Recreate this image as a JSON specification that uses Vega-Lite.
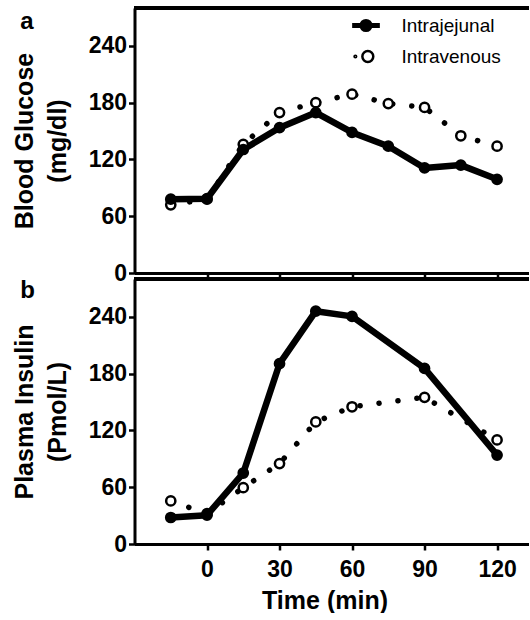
{
  "$schema": "https://vega.github.io/schema/vega-lite/v6.json",
  "padding": {"left": 11.5, "top": 6, "right": 0, "bottom": 0},
  "spacing": 6,
  "bounds": "flush",
  "config": {
    "font": "Liberation Sans",
    "view": {"stroke": null},
    "axis": {
      "grid": false,
      "domainColor": "black",
      "domainWidth": 3,
      "tickColor": "black",
      "tickWidth": 2.5,
      "tickSize": 6,
      "labelFont": "Liberation Sans",
      "labelFontSize": 23,
      "labelFontWeight": "bold",
      "labelColor": "black",
      "titleFont": "Liberation Sans",
      "titleFontSize": 25,
      "titleFontWeight": "bold",
      "titleColor": "black"
    },
    "axisX": {"labelPadding": 8, "titlePadding": 7},
    "axisY": {"labelPadding": 2, "titlePadding": 18, "titleLineHeight": 33}
  },
  "datasets": {
    "glucose": [
      {"time": -15, "route": "Intravenous", "value": 72},
      {"time": 0, "route": "Intravenous", "value": 78},
      {"time": 15, "route": "Intravenous", "value": 136},
      {"time": 30, "route": "Intravenous", "value": 169.5},
      {"time": 45, "route": "Intravenous", "value": 180},
      {"time": 60, "route": "Intravenous", "value": 189},
      {"time": 75, "route": "Intravenous", "value": 179},
      {"time": 90, "route": "Intravenous", "value": 175},
      {"time": 105, "route": "Intravenous", "value": 145},
      {"time": 120, "route": "Intravenous", "value": 134},
      {"time": -15, "route": "Intrajejunal", "value": 78},
      {"time": 0, "route": "Intrajejunal", "value": 78.5},
      {"time": 15, "route": "Intrajejunal", "value": 130.5},
      {"time": 30, "route": "Intrajejunal", "value": 153.5},
      {"time": 45, "route": "Intrajejunal", "value": 169.5},
      {"time": 60, "route": "Intrajejunal", "value": 148.5},
      {"time": 75, "route": "Intrajejunal", "value": 134},
      {"time": 90, "route": "Intrajejunal", "value": 111},
      {"time": 105, "route": "Intrajejunal", "value": 114},
      {"time": 120, "route": "Intrajejunal", "value": 99}
    ],
    "insulin": [
      {"time": -15, "route": "Intravenous", "value": 45.5},
      {"time": 0, "route": "Intravenous", "value": 32},
      {"time": 15, "route": "Intravenous", "value": 59.5},
      {"time": 30, "route": "Intravenous", "value": 85},
      {"time": 45, "route": "Intravenous", "value": 129},
      {"time": 60, "route": "Intravenous", "value": 145},
      {"time": 90, "route": "Intravenous", "value": 155},
      {"time": 120, "route": "Intravenous", "value": 110},
      {"time": -15, "route": "Intrajejunal", "value": 28},
      {"time": 0, "route": "Intrajejunal", "value": 30.5},
      {"time": 15, "route": "Intrajejunal", "value": 75},
      {"time": 30, "route": "Intrajejunal", "value": 190.5},
      {"time": 45, "route": "Intrajejunal", "value": 246},
      {"time": 60, "route": "Intrajejunal", "value": 240.5},
      {"time": 90, "route": "Intrajejunal", "value": 185.5},
      {"time": 120, "route": "Intrajejunal", "value": 94}
    ]
  },
  "resolve": {"scale": {"fill": "independent", "shape": "independent", "stroke": "independent"}, "legend": {"fill": "independent", "shape": "independent", "stroke": "independent"}},
  "vconcat": [
    {
      "data": {"name": "glucose"},
      "width": 394,
      "height": 265,
      "title": {"text": "a", "anchor": "start", "frame": "bounds", "orient": "top", "offset": -27, "dx": 8, "fontSize": 24, "fontWeight": "bold", "font": "Liberation Sans", "color": "black"},
      "layer": [
        {
          "transform": [{"filter": "datum.route === 'Intravenous'"}],
          "mark": {"type": "line", "stroke": "black", "strokeWidth": 5.5, "strokeCap": "round", "strokeJoin": "round", "strokeDash": [0.1, 19]},
          "encoding": {
            "x": {"field": "time", "type": "quantitative", "scale": {"domain": [-30, 133], "nice": false, "zero": false}, "axis": {"values": [0, 30, 60, 90, 120], "labels": false, "title": null, "tickSize": 5}},
            "y": {"field": "value", "type": "quantitative", "scale": {"domain": [0, 280], "nice": false}, "axis": {"values": [0, 60, 120, 180, 240], "title": ["Blood Glucose", "(mg/dl)"]}}
          }
        },
        {
          "transform": [{"filter": "datum.route === 'Intrajejunal'"}],
          "mark": {"type": "line", "stroke": "black", "strokeWidth": 6.5, "strokeCap": "round", "strokeJoin": "round"},
          "encoding": {
            "x": {"field": "time", "type": "quantitative"},
            "y": {"field": "value", "type": "quantitative"}
          }
        },
        {
          "mark": {"type": "point", "shape": "circle", "filled": true, "stroke": "black", "strokeWidth": 2.5, "size": 85, "opacity": 1},
          "encoding": {
            "x": {"field": "time", "type": "quantitative"},
            "y": {"field": "value", "type": "quantitative"},
            "fill": {
              "field": "route", "type": "nominal",
              "scale": {"domain": ["Intrajejunal", "Intravenous"], "range": ["black", "white"]},
              "legend": {
                "title": null, "orient": "none", "legendX": 216, "legendY": 2, "padding": 0,
                "symbolSize": 784, "symbolStrokeColor": "black", "symbolStrokeWidth": 2.5, "symbolOpacity": 1,
                "labelFontSize": 19, "labelFont": "Liberation Sans", "labelColor": "black", "labelOffset": 20, "rowPadding": 5
              }
            }
          }
        },
        {
          "transform": [{"filter": "false"}],
          "mark": {"type": "point", "filled": true, "strokeWidth": 2.5, "opacity": 1},
          "encoding": {
            "x": {"field": "time", "type": "quantitative"},
            "y": {"field": "value", "type": "quantitative"},
            "shape": {
              "field": "route", "type": "nominal",
              "scale": {"domain": ["Intrajejunal", "Intravenous"], "range": [
                "M-0.9,-0.09L0.9,-0.09L0.9,0.09L-0.9,0.09Z M-0.38,0A0.38,0.38,0,1,1,0.38,0A0.38,0.38,0,1,1,-0.38,0Z",
                "M-0.82,0A0.06,0.06,0,1,1,-0.7,0A0.06,0.06,0,1,1,-0.82,0Z M-0.26,0A0.39,0.39,0,1,1,0.52,0A0.39,0.39,0,1,1,-0.26,0Z"
              ]},
              "legend": {
                "title": null, "orient": "none", "legendX": 216, "legendY": 2, "padding": 0,
                "symbolSize": 784, "symbolStrokeColor": "black", "symbolStrokeWidth": 2.5, "symbolOpacity": 1,
                "labelFontSize": 19, "labelFont": "Liberation Sans", "labelColor": "black", "labelOffset": 20, "rowPadding": 5
              }
            },
            "stroke": {
              "field": "route", "type": "nominal",
              "scale": {"domain": ["Intrajejunal", "Intravenous"], "range": ["black", "black"]},
              "legend": {
                "title": null, "orient": "none", "legendX": 216, "legendY": 2, "padding": 0,
                "symbolSize": 784, "symbolStrokeColor": "black", "symbolStrokeWidth": 2.5, "symbolOpacity": 1,
                "labelFontSize": 19, "labelFont": "Liberation Sans", "labelColor": "black", "labelOffset": 20, "rowPadding": 5
              }
            }
          }
        },
        {
          "mark": {"type": "rule", "stroke": "black", "strokeWidth": 3},
          "encoding": {"y": {"datum": 280}}
        }
      ]
    },
    {
      "data": {"name": "insulin"},
      "width": 394,
      "height": 265,
      "title": {"text": "b", "anchor": "start", "frame": "bounds", "orient": "top", "offset": -25, "dx": 8, "fontSize": 24, "fontWeight": "bold", "font": "Liberation Sans", "color": "black"},
      "layer": [
        {
          "transform": [{"filter": "datum.route === 'Intravenous'"}],
          "mark": {"type": "line", "stroke": "black", "strokeWidth": 5.5, "strokeCap": "round", "strokeJoin": "round", "strokeDash": [0.1, 19]},
          "encoding": {
            "x": {"field": "time", "type": "quantitative", "scale": {"domain": [-30, 133], "nice": false, "zero": false}, "axis": {"values": [0, 30, 60, 90, 120], "title": "Time (min)", "titleX": 190}},
            "y": {"field": "value", "type": "quantitative", "scale": {"domain": [0, 280], "nice": false}, "axis": {"values": [0, 60, 120, 180, 240], "title": ["Plasma Insulin", "(Pmol/L)"]}}
          }
        },
        {
          "transform": [{"filter": "datum.route === 'Intrajejunal'"}],
          "mark": {"type": "line", "stroke": "black", "strokeWidth": 6.5, "strokeCap": "round", "strokeJoin": "round"},
          "encoding": {
            "x": {"field": "time", "type": "quantitative"},
            "y": {"field": "value", "type": "quantitative"}
          }
        },
        {
          "mark": {"type": "point", "shape": "circle", "filled": true, "stroke": "black", "strokeWidth": 2.5, "size": 85, "opacity": 1},
          "encoding": {
            "x": {"field": "time", "type": "quantitative"},
            "y": {"field": "value", "type": "quantitative"},
            "fill": {"field": "route", "type": "nominal", "scale": {"domain": ["Intrajejunal", "Intravenous"], "range": ["black", "white"]}, "legend": null}
          }
        },
        {
          "mark": {"type": "rule", "stroke": "black", "strokeWidth": 3},
          "encoding": {"y": {"datum": 280}}
        }
      ]
    }
  ]
}
